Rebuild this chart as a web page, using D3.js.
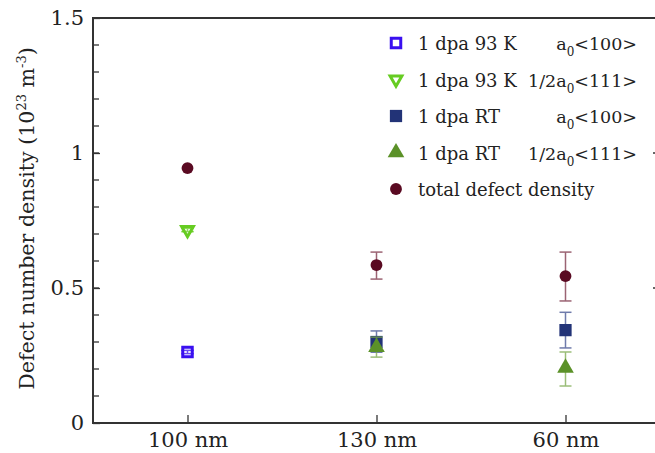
<!DOCTYPE html>
<html>
<head>
<meta charset="utf-8">
<script src="https://cdn.jsdelivr.net/npm/d3@7"></script>
<style>
  body { margin: 0; background: #fff; }
  text { font-family: "DejaVu Serif", serif; fill: #222; }
</style>
</head>
<body>
<div id="chart"></div>
<script>
// sample categories (x axis)
var categories = ["100 nm", "130 nm", "60 nm"];
var yTicks = [0, 0.5, 1, 1.5];
var yTickLabels = ["0", "0.5", "1", "1.5"];

// values: [category, value, errLow, errHigh]
var k93Loop100 = [["100 nm", 0.263, 0.257, 0.269]];
var k93Loop111 = [["100 nm", 0.715, 0.709, 0.721]];
var rtLoop100 = [["130 nm", 0.300, 0.262, 0.341], ["60 nm", 0.344, 0.278, 0.410]];
var rtLoop111 = [["130 nm", 0.281, 0.244, 0.318], ["60 nm", 0.204, 0.137, 0.263]];
var totalDensity = [["100 nm", 0.944, 0.944, 0.944], ["130 nm", 0.585, 0.533, 0.633], ["60 nm", 0.544, 0.452, 0.633]];

var margin = { top: 18, right: -5, bottom: 30, left: 93 },
    width = 655 - margin.left - margin.right,
    height = 453 - margin.top - margin.bottom;

var svg = d3.select("#chart")
    .append("svg")
    .attr("width", 655)
    .attr("height", 453)
    .append("g")
    .attr("transform", "translate(" + margin.left + "," + margin.top + ")");

var x = d3.scalePoint()
    .domain(categories)
    .range([0, width])
    .padding(0.5);

var y = d3.scaleLinear()
    .domain([0, 1.5])
    .range([height, 0]);

// minor ticks every 0.1, inward
var minor = d3.range(0, 1.51, 0.1);
svg.append("g")
    .selectAll("line")
    .data(minor)
    .enter().append("line")
    .attr("x1", 0).attr("x2", 6)
    .attr("y1", function (d) { return y(d); })
    .attr("y2", function (d) { return y(d); })
    .attr("stroke", "#333").attr("stroke-width", 1.3);
// right side ticks
svg.append("g")
    .selectAll("line")
    .data(yTicks)
    .enter().append("line")
    .attr("x1", width).attr("x2", width - 7)
    .attr("y1", function (d) { return y(d); })
    .attr("y2", function (d) { return y(d); })
    .attr("stroke", "#333").attr("stroke-width", 1.3);

// Y axis
var yAxis = svg.append("g")
    .call(d3.axisLeft(y).tickValues(yTicks)
        .tickFormat(function (d, i) { return yTickLabels[i]; })
        .tickSizeInner(-7).tickSizeOuter(0).tickPadding(9));
yAxis.select(".domain").remove();
yAxis.selectAll("line").attr("stroke", "#333").attr("stroke-width", 1.3);
yAxis.selectAll("text").style("font-size", "21px").style("font-family", "DejaVu Serif").attr("fill", "#222");

// X axis
var xAxis = svg.append("g")
    .attr("transform", "translate(0," + height + ")")
    .call(d3.axisBottom(x).tickSizeInner(-8).tickSizeOuter(0).tickPadding(9));
xAxis.select(".domain").remove();
xAxis.selectAll("line").attr("stroke", "#333").attr("stroke-width", 1.3);
xAxis.selectAll("text").style("font-size", "21px").style("font-family", "DejaVu Serif").attr("fill", "#222");

// frame
svg.append("rect")
    .attr("x", 0).attr("y", 0)
    .attr("width", width).attr("height", height)
    .attr("fill", "none")
    .attr("stroke", "#333")
    .attr("stroke-width", 2);

// Y title
var yt = svg.append("text")
    .attr("transform", "rotate(-90)")
    .attr("x", -height / 2 + 2)
    .attr("y", -margin.left + 34)
    .style("text-anchor", "middle")
    .style("font-size", "20.6px");
yt.append("tspan").text("Defect number density (10");
yt.append("tspan").attr("dy", -8).style("font-size", "13px").text("23");
yt.append("tspan").attr("dy", 8).text(" m");
yt.append("tspan").attr("dy", -8).style("font-size", "13px").text("-3");
yt.append("tspan").attr("dy", 8).text(")");

function errorBars(data, color) {
  var g = svg.append("g").attr("stroke", color).attr("stroke-width", 1.5).attr("opacity", 0.75);
  data.forEach(function (d) {
    if (d[3] - d[2] <= 0) return;
    var cx = x(d[0]);
    g.append("line").attr("x1", cx).attr("x2", cx).attr("y1", y(d[2])).attr("y2", y(d[3]));
    g.append("line").attr("x1", cx - 6).attr("x2", cx + 6).attr("y1", y(d[2])).attr("y2", y(d[2]));
    g.append("line").attr("x1", cx - 6).attr("x2", cx + 6).attr("y1", y(d[3])).attr("y2", y(d[3]));
  });
}

var series = [
  { data: rtLoop100, shape: d3.symbolSquare, size: 150, fill: "#223377", stroke: "none", err: "#3f4f8f" },
  { data: rtLoop111, shape: d3.symbolTriangle, size: 120, fill: "#5b9128", stroke: "none", err: "#7aa84c" },
  { data: totalDensity, shape: d3.symbolCircle, size: 110, fill: "#5a0a22", stroke: "none", err: "#7a3045" },
  { data: k93Loop111, shape: d3.symbolTriangle, size: 60, fill: "#fff", stroke: "#66cc22", err: "#66cc22", rot: 180 },
  { data: k93Loop100, shape: d3.symbolSquare, size: 90, fill: "#fff", stroke: "#3a10f0", err: "#3a10f0" }
];

series.forEach(function (s) {
  errorBars(s.data, s.err);
  svg.append("g").selectAll("path")
      .data(s.data)
      .enter().append("path")
      .attr("d", d3.symbol().type(s.shape).size(s.size))
      .attr("transform", function (d) {
        return "translate(" + x(d[0]) + "," + y(d[1]) + ")" + (s.rot ? " rotate(" + s.rot + ")" : "");
      })
      .attr("fill", s.fill)
      .attr("stroke", s.stroke)
      .attr("stroke-width", 3);
});
// tiny bars inside the open markers
errorBars(k93Loop100, "#3a10f0");
errorBars(k93Loop111, "#66cc22");

// legend
var legendItems = [
  { s: series[4], label: "1 dpa 93 K", loop: ["", "a", "0", "<100>"] },
  { s: series[3], label: "1 dpa 93 K", loop: ["1/2", "a", "0", "<111>"] },
  { s: series[0], label: "1 dpa RT", loop: ["", "a", "0", "<100>"] },
  { s: series[1], label: "1 dpa RT", loop: ["1/2", "a", "0", "<111>"] },
  { s: series[2], label: "total defect density", loop: null }
];
var lg = svg.append("g").attr("transform", "translate(" + (396 - margin.left) + "," + (43 - margin.top) + ")");
legendItems.forEach(function (it, i) {
  var row = lg.append("g").attr("transform", "translate(0," + (i * 36.5) + ")");
  row.append("path")
      .attr("d", d3.symbol().type(it.s.shape).size(it.s.size))
      .attr("transform", it.s.rot ? "rotate(180)" : null)
      .attr("fill", it.s.fill)
      .attr("stroke", it.s.stroke)
      .attr("stroke-width", 3);
  row.append("text").attr("x", 22).attr("y", 7).style("font-size", "18px").text(it.label);
  if (it.loop) {
    var t = row.append("text").attr("x", 241).attr("y", 7)
        .style("font-size", "17.5px").style("text-anchor", "end");
    t.append("tspan").text(it.loop[0] + it.loop[1]);
    t.append("tspan").attr("dy", 6).style("font-size", "12px").text(it.loop[2]);
    t.append("tspan").attr("dy", -6).text(it.loop[3]);
  }
});
</script>
</body>
</html>
